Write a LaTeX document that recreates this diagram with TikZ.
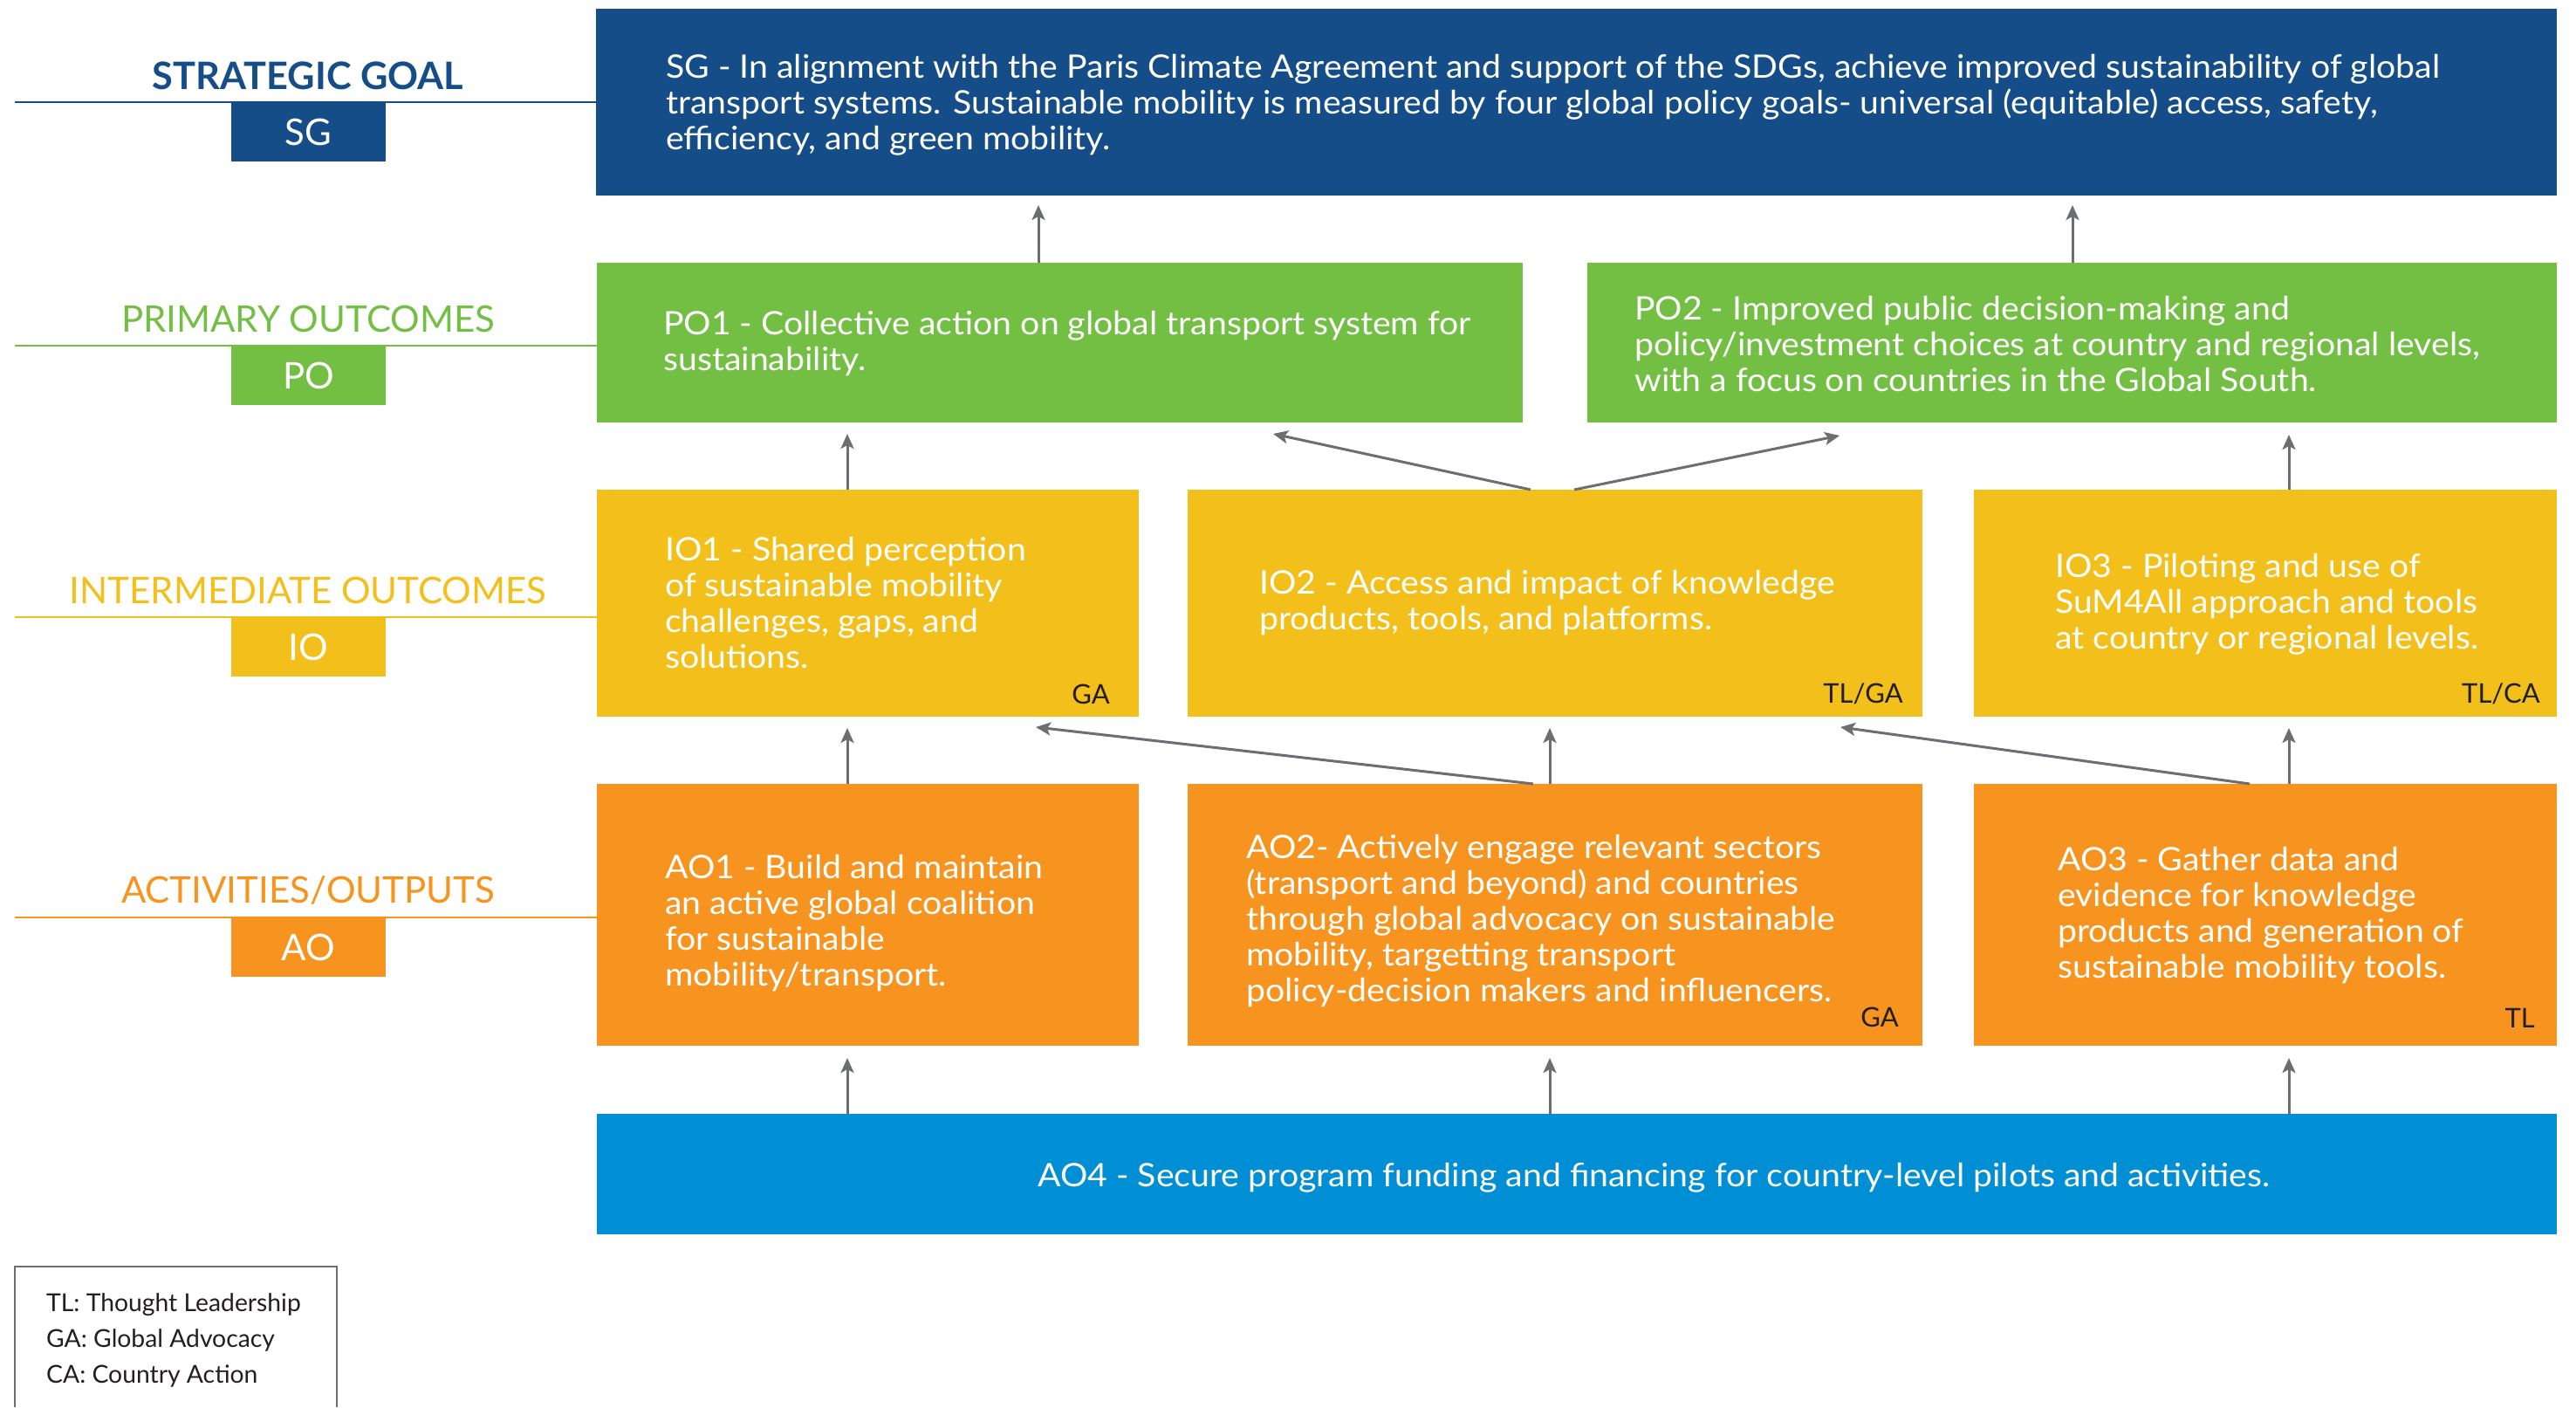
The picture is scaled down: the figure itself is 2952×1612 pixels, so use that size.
\documentclass[tikz,border=0pt]{standalone}
\usepackage{fontspec}
\setmainfont{Lato}
\newfontfamily\bodyfont[FakeStretch=1.06]{Lato}
\usetikzlibrary{arrows.meta,calc}
\definecolor{sgblue}{HTML}{154D89}
\definecolor{pogreen}{HTML}{72BF44}
\definecolor{ioyellow}{HTML}{F3BF1A}
\definecolor{aoorange}{HTML}{F7941F}
\definecolor{aoblue}{HTML}{008ED4}
\definecolor{arrgray}{HTML}{6D6E71}
\definecolor{tagdark}{HTML}{231F20}
\begin{document}
\begin{tikzpicture}[x=1pt,y=-1pt,
  box/.style={anchor=north west, inner sep=0pt, outer sep=0pt, draw=none},
  body/.style={anchor=base west, inner sep=0pt, align=left, text=white, font=\bodyfont\fontsize{37}{41}\selectfont},
  tag/.style={anchor=base east, inner sep=0pt, text=tagdark, font=\fontsize{31}{36}\selectfont},
  title/.style={anchor=base, inner sep=0pt, font=\fontsize{42}{48}\selectfont},
  lblbox/.style={anchor=north, inner sep=0pt, minimum width=177pt, minimum height=68pt, text=white, font=\fontsize{42}{48}\selectfont},
  rule/.style={line width=2pt},
  arr/.style={draw=arrgray, line width=3pt, -{Stealth[length=17pt,width=15pt,inset=4pt]}},
  legendtext/.style={anchor=base west, inner sep=0pt, align=left, text=tagdark, font=\fontsize{28.3}{41}\selectfont}
]
\useasboundingbox (0,0) rectangle (2952,1612);

% ---------- main boxes ----------
\node[box, fill=sgblue, minimum width=2247pt, minimum height=214pt] (sg) at (683,10) {};
\node[box, fill=pogreen, minimum width=1061pt, minimum height=183pt] (po1) at (684,301) {};
\node[box, fill=pogreen, minimum width=1111pt, minimum height=183pt] (po2) at (1819,301) {};
\node[box, fill=ioyellow, minimum width=621pt, minimum height=260pt] (io1) at (684,561) {};
\node[box, fill=ioyellow, minimum width=842pt, minimum height=260pt] (io2) at (1361,561) {};
\node[box, fill=ioyellow, minimum width=668pt, minimum height=260pt] (io3) at (2262,561) {};
\node[box, fill=aoorange, minimum width=621pt, minimum height=300pt] (ao1) at (684,898) {};
\node[box, fill=aoorange, minimum width=842pt, minimum height=300pt] (ao2) at (1361,898) {};
\node[box, fill=aoorange, minimum width=668pt, minimum height=300pt] (ao3) at (2262,898) {};
\node[box, fill=aoblue, minimum width=2246pt, minimum height=138pt] (ao4) at (684,1276) {};

% ---------- texts (anchored at the baseline of the last line) ----------
\node[body] (sgt) at (763,171) {SG - In alignment with the Paris Climate Agreement and support of the SDGs, achieve improved sustainability of global\\transport systems. Sustainable mobility is measured by four global policy goals- universal (equitable) access, safety,\\efficiency, and green mobility.};
\node[body] (po1t) at (760,424) {PO1 - Collective action on global transport system for\\sustainability.};
\node[body] (po2t) at (1873,448) {PO2 - Improved public decision-making and\\policy/investment choices at country and regional levels,\\with a focus on countries in the Global South.};
\node[body] (io1t) at (762,765) {IO1 - Shared perception\\of sustainable mobility\\challenges, gaps, and\\solutions.};
\node[body] (io2t) at (1443,721) {IO2 - Access and impact of knowledge\\products, tools, and platforms.};
\node[body] (io3t) at (2355,743) {IO3 - Piloting and use of\\SuM4All approach and tools\\at country or regional levels.};
\node[body] (ao1t) at (762,1129) {AO1 - Build and maintain\\an active global coalition\\for sustainable\\mobility/transport.};
\node[body] (ao2t) at (1428,1147) {AO2- Actively engage relevant sectors\\(transport and beyond) and countries\\through global advocacy on sustainable\\mobility, targetting transport\\policy-decision makers and influencers.};
\node[body] (ao3t) at (2358,1120) {AO3 - Gather data and\\evidence for knowledge\\products and generation of\\sustainable mobility tools.};
\node[body] (ao4t) at (1189,1359) {AO4 - Secure program funding and financing for country-level pilots and activities.};

% ---------- tags ----------
\node[tag] (io1g) at (1272,806) {GA};
\node[tag] (io2g) at (2181,805) {TL/GA};
\node[tag] (io3g) at (2911,805) {TL/CA};
\node[tag] (ao2g) at (2176,1176) {GA};
\node[tag] (ao3g) at (2905,1177) {TL};

% ---------- left level labels ----------
\coordinate (sgl) at (17,117);
\coordinate (pol) at (17,396);
\coordinate (iol) at (17,707);
\coordinate (aol) at (17,1051);
\draw[rule, sgblue] (sgl) -- (sgl -| sg.west);
\draw[rule, pogreen] (pol) -- (pol -| po1.west);
\draw[rule, ioyellow] (iol) -- (iol -| io1.west);
\draw[rule, aoorange] (aol) -- (aol -| ao1.west);
\node[title, text=sgblue, font=\fontsize{43.3}{48}\selectfont\bfseries] (sgtitle) at (353,102) {STRATEGIC GOAL};
\node[title, text=pogreen] (potitle) at (353,380) {PRIMARY OUTCOMES};
\node[title, text=ioyellow] (iotitle) at (353,691) {INTERMEDIATE OUTCOMES};
\node[title, text=aoorange] (aotitle) at (353,1034) {ACTIVITIES/OUTPUTS};
\node[lblbox, fill=sgblue] (sglbl) at (353.5,117) {SG};
\node[lblbox, fill=pogreen] (polbl) at (353.5,396) {PO};
\node[lblbox, fill=ioyellow] (iolbl) at (353.5,707) {IO};
\node[lblbox, fill=aoorange] (aolbl) at (353.5,1051) {AO};

% ---------- arrows ----------
\draw[arr] (1190,0 |- po1.north) -- ($(1190,0 |- sg.south)+(0,11)$);
\draw[arr] (2375,0 |- po2.north) -- ($(2375,0 |- sg.south)+(0,11)$);
\draw[arr] (971,0 |- io1.north) -- ($(971,0 |- po1.south)+(0,13)$);
\draw[arr] (2623,0 |- io3.north) -- ($(2623,0 |- po2.south)+(0,14)$);
\draw[arr] (1754,0 |- io2.north) -- ($(1459,0 |- po1.south)+(0,13)$);
\draw[arr] (1804,0 |- io2.north) -- ($(2108,0 |- po2.south)+(0,15)$);
\draw[arr] (971,0 |- ao1.north) -- ($(971,0 |- io1.south)+(0,13)$);
\draw[arr] (1776,0 |- ao2.north) -- ($(1776,0 |- io2.south)+(0,13)$);
\draw[arr] (2623,0 |- ao3.north) -- ($(2623,0 |- io3.south)+(0,13)$);
\draw[arr] (1757,0 |- ao2.north) -- ($(1187,0 |- io1.south)+(0,12)$);
\draw[arr] (2578,0 |- ao3.north) -- ($(2109,0 |- io2.south)+(0,12)$);
\draw[arr] (971,0 |- ao4.north) -- ($(971,0 |- ao1.south)+(0,14)$);
\draw[arr] (1776,0 |- ao4.north) -- ($(1776,0 |- ao2.south)+(0,14)$);
\draw[arr] (2623,0 |- ao4.north) -- ($(2623,0 |- ao3.south)+(0,14)$);

% ---------- legend ----------
\coordinate (lg1) at (17,1612);
\coordinate (lg2) at (386,1612);
\draw[draw=arrgray, line width=2pt] (lg1) -- (17,1451) -- (386,1451) -- (lg2);
\node[legendtext] (legend) at (53,1584) {TL: Thought Leadership\\GA: Global Advocacy\\CA: Country Action};
\end{tikzpicture}
\end{document}
